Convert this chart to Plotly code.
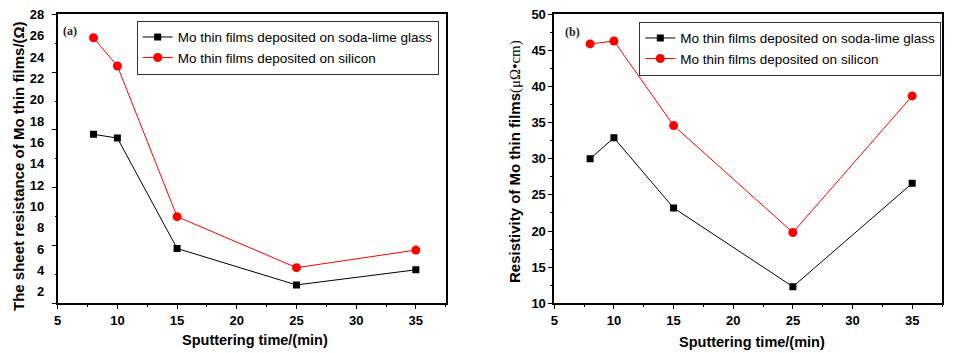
import numpy as np
import plotly.graph_objects as go

# ---- data ----
time_min = [8, 10, 15, 25, 35]
sheet_glass = [16.75, 16.4, 6.05, 2.63, 4.05]
sheet_silicon = [25.8, 23.15, 9.03, 4.25, 5.9]
rho_glass = [30.0, 32.9, 23.2, 12.3, 26.6]
rho_silicon = [45.9, 46.3, 34.6, 19.8, 38.7]
name_glass = "Mo thin films deposited on soda-lime glass"
name_silicon = "Mo thin films deposited on silicon"
left_tick_labels = list(range(2, 29, 2))
right_tick_labels = list(range(10, 51, 5))
x_tick_labels = list(range(5, 36, 5))

SANS = "Liberation Sans, Arial, sans-serif"
SERIF = "Liberation Serif, Times New Roman, serif"
W, H = 954, 353

def px(x):
    return x / W

def py(y):
    return 1 - y / H

def bold(vals):
    return ["<b>%s</b>" % v for v in vals]

fig = go.Figure()

# left panel
fig.add_trace(go.Scatter(x=time_min, y=sheet_glass, name=name_glass, mode="lines+markers",
                         line=dict(color="black", width=1), marker=dict(symbol="square", size=7, color="black"),
                         xaxis="x", yaxis="y", legend="legend"))
fig.add_trace(go.Scatter(x=time_min, y=sheet_silicon, name=name_silicon, mode="lines+markers",
                         line=dict(color="#ff0000", width=1), marker=dict(symbol="circle", size=9, color="#ff0000"),
                         xaxis="x", yaxis="y", legend="legend"))
# empty trace to hold the tick-mark overlay axis
fig.add_trace(go.Scatter(x=[], y=[], xaxis="x", yaxis="y3", showlegend=False, hoverinfo="skip"))

# right panel
fig.add_trace(go.Scatter(x=time_min, y=rho_glass, name=name_glass, mode="lines+markers",
                         line=dict(color="black", width=1), marker=dict(symbol="square", size=7, color="black"),
                         xaxis="x2", yaxis="y2", legend="legend2"))
fig.add_trace(go.Scatter(x=time_min, y=rho_silicon, name=name_silicon, mode="lines+markers",
                         line=dict(color="#ff0000", width=1), marker=dict(symbol="circle", size=9, color="#ff0000"),
                         xaxis="x2", yaxis="y2", legend="legend2"))

ydom = [py(303.3), py(14.3)]
left_range = [0.91, 28]
tick_pos = np.linspace(left_range[1], left_range[0], 11)
long_ticks = list(tick_pos[::2])
short_ticks = list(tick_pos[1::2])

tickfont = dict(family=SANS, size=13, color="black")
xcommon = dict(range=[5, 37.5], tickvals=x_tick_labels, ticktext=bold(x_tick_labels),
               ticks="outside", ticklen=4, tickwidth=1.3, automargin=False,
               tickcolor="black", showline=True, linecolor="black", linewidth=1.7, mirror=True,
               showgrid=False, zeroline=False, tickfont=tickfont,
               minor=dict(ticks="outside", ticklen=2, dtick=2.5, tick0=5, tickcolor="black",
                          tickwidth=1.2, showgrid=False))

fig.update_layout(
    width=W, height=H, margin=dict(l=0, r=0, t=0, b=0),
    paper_bgcolor="white", plot_bgcolor="white",
    font=dict(family=SANS, color="black"),
    xaxis=dict(domain=[px(57.7), px(445.7)], anchor="y", **xcommon),
    xaxis2=dict(domain=[px(554.3), px(942)], anchor="y2", **xcommon),
    yaxis=dict(domain=ydom, anchor="x", range=left_range, tickvals=left_tick_labels,
               ticktext=bold(left_tick_labels), automargin=False,
               ticks="", ticklabelstandoff=9, showline=True, linecolor="black", linewidth=1.7,
               mirror=True, showgrid=False, zeroline=False, tickfont=tickfont),
    yaxis3=dict(overlaying="y", anchor="x", side="left", range=left_range, tickvals=long_ticks,
                ticks="outside", ticklen=5, tickwidth=1.3, tickcolor="black", showticklabels=False,
                showline=False, showgrid=False, zeroline=False, automargin=False,
                minor=dict(tickvals=short_ticks, ticks="outside", ticklen=2, tickwidth=1.2,
                           tickcolor="black", showgrid=False)),
    yaxis2=dict(domain=ydom, anchor="x2", range=[10, 50], tickvals=right_tick_labels,
                ticktext=bold(right_tick_labels), ticks="outside", automargin=False,
                ticklen=4, tickwidth=1.3, tickcolor="black", showline=True, linecolor="black",
                linewidth=1.7, mirror=True, showgrid=False, zeroline=False, tickfont=tickfont,
                minor=dict(ticks="outside", ticklen=2, dtick=2.5, tick0=10, tickcolor="black",
                           tickwidth=1.2, showgrid=False)),
    legend=dict(x=px(136.7), y=py(20.7), xanchor="left", yanchor="top", bgcolor="white",
                bordercolor="#333333", borderwidth=1, font=dict(family=SANS, size=13.5, color="black"),
                tracegroupgap=0, itemwidth=30),
    legend2=dict(x=px(639.3), y=py(21.7), xanchor="left", yanchor="top", bgcolor="white",
                 bordercolor="#333333", borderwidth=1, font=dict(family=SANS, size=13.5, color="black"),
                 tracegroupgap=0, itemwidth=30),
)

annotations = [
    dict(text="<b>The sheet resistance of Mo thin films/(Ω)</b>", x=px(18), y=py(166), textangle=-90,
         font=dict(family=SANS, size=15, color="black")),
    dict(text="<b>Resistivity of Mo thin films</b><span style='font-family:Liberation Serif'>(μΩ•cm)</span>",
         x=px(515), y=py(162), textangle=-90, font=dict(family=SANS, size=15, color="black")),
    dict(text="<b>Sputtering time/(min)</b>", x=px(255), y=py(340),
         font=dict(family=SANS, size=14.5, color="black")),
    dict(text="<b>Sputtering time/(min)</b>", x=px(752), y=py(342),
         font=dict(family=SANS, size=14.5, color="black")),
    dict(text="<b>(a)</b>", x=px(70), y=py(31), font=dict(family=SERIF, size=12, color="#222222")),
    dict(text="<b>(b)</b>", x=px(572), y=py(32), font=dict(family=SERIF, size=12, color="#222222")),
]
for a in annotations:
    a.update(xref="paper", yref="paper", showarrow=False, xanchor="center", yanchor="middle")
fig.update_layout(annotations=annotations)

fig.write_html("out.html", config={"displayModeBar": False},
               post_script="document.body.style.margin='0';document.body.style.overflow='hidden';")
